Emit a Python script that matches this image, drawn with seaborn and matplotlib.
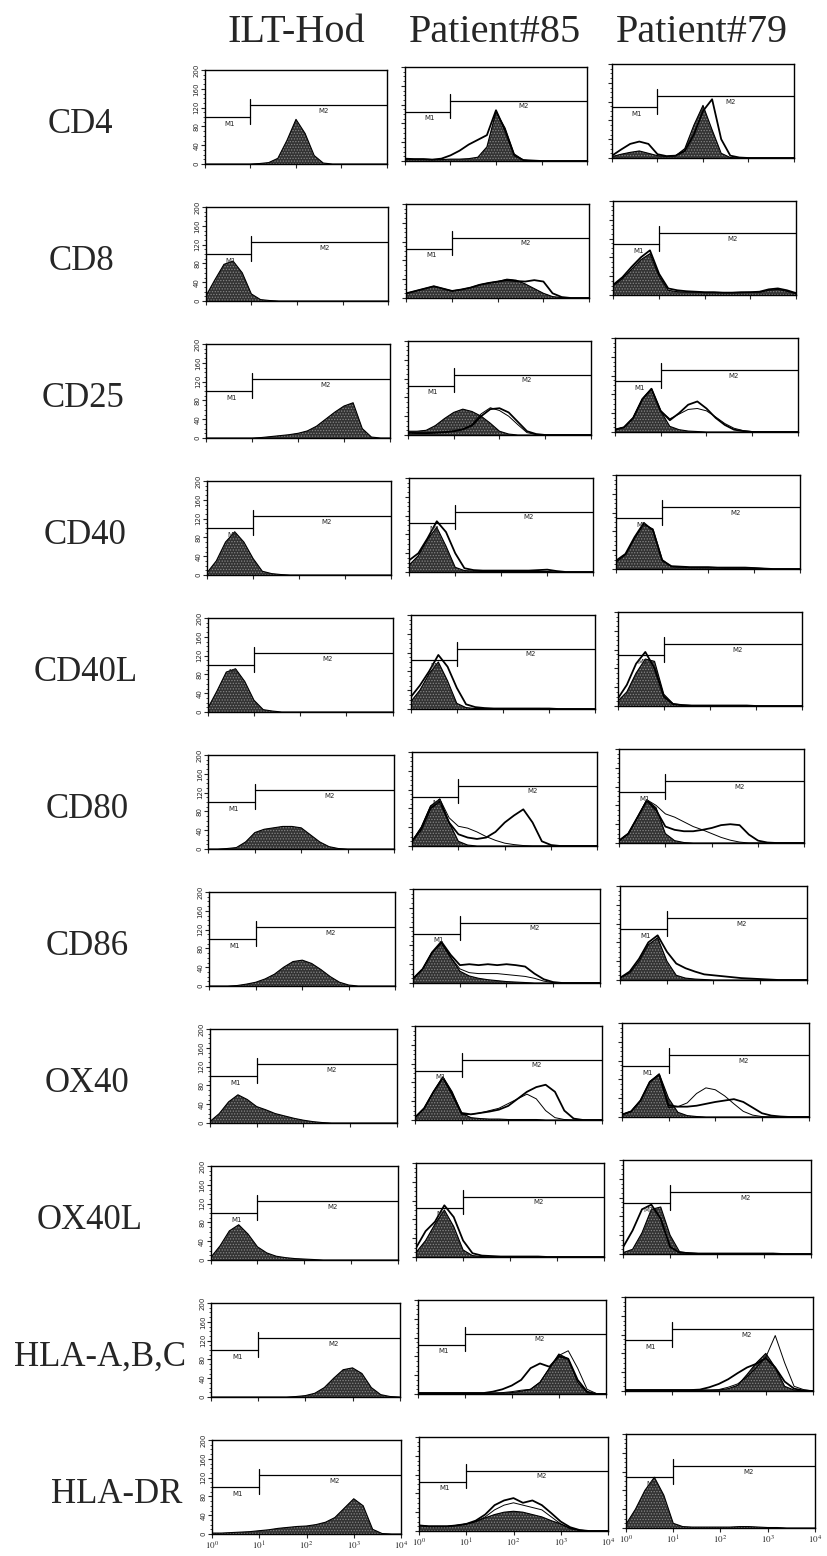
import numpy as np
import seaborn as sns
import matplotlib.pyplot as plt
from matplotlib.ticker import LogLocator, MultipleLocator, NullFormatter, FixedLocator

# -------------------------------
# style
# -------------------------------
sns.set_style("ticks")
plt.rcParams["font.family"] = ["Liberation Serif", "DejaVu Serif"]
plt.rcParams["mathtext.fontset"] = "stix"
plt.rcParams["hatch.linewidth"] = 0.6

# -------------------------------
# data: event counts per 0.2-decade channel (10^0 .. 10^4)
# -------------------------------
log_channels = [0.0, 0.2, 0.4, 0.6, 0.8, 1.0, 1.2, 1.4, 1.6, 1.8, 2.0,
                2.2, 2.4, 2.6, 2.8, 3.0, 3.2, 3.4, 3.6, 3.8, 4.0]

columns = ["ILT-Hod", "Patient#85", "Patient#79"]
markers = ["CD4", "CD8", "CD25", "CD40", "CD40L", "CD80", "CD86",
           "OX40", "OX40L", "HLA-A,B,C", "HLA-DR"]

y_ticks = [0, 40, 80, 120, 160, 200]
x_decades = [1, 10, 100, 1000, 10000]

# gates M1 / M2 per column
gate_pos = [10, 10, 10]
m1_level = [100, 105, 108]
m2_level = [125, 128, 132]

cd4_ilt = [0, 0, 0, 0, 0, 0, 1, 3, 12, 50, 95, 65, 18, 2, 0, 0, 0, 0, 0, 0, 0]
cd4_p85_fill = [4, 4, 4, 3, 3, 4, 4, 5, 8, 30, 105, 70, 15, 2, 0, 0, 0, 0, 0, 0, 0]
cd4_p85_line = [5, 4, 4, 3, 5, 12, 22, 35, 45, 55, 108, 65, 12, 2, 1, 0, 0, 0, 0, 0, 0]
cd4_p79_fill = [3, 8, 12, 15, 10, 5, 3, 5, 20, 70, 112, 60, 10, 1, 0, 0, 0, 0, 0, 0, 0]
cd4_p79_line = [5, 18, 30, 35, 30, 8, 4, 5, 15, 50, 100, 125, 40, 5, 1, 0, 0, 0, 0, 0, 0]

cd8_ilt = [10, 45, 78, 85, 60, 15, 3, 1, 0, 0, 0, 0, 0, 0, 0, 0, 0, 0, 0, 0, 0]
cd8_p85_fill = [10, 15, 20, 25, 20, 15, 18, 22, 28, 32, 35, 40, 38, 30, 20, 10, 3, 1, 0, 0, 0]
cd8_p85_line = [10, 15, 20, 25, 20, 15, 18, 22, 28, 32, 35, 38, 36, 35, 38, 35, 10, 2, 0, 0, 0]
cd8_p79_fill = [20, 35, 55, 75, 88, 40, 10, 7, 6, 6, 5, 5, 5, 5, 5, 6, 6, 10, 12, 8, 3]
cd8_p79_line = [22, 38, 60, 80, 95, 45, 14, 10, 8, 7, 6, 6, 5, 5, 6, 6, 7, 12, 14, 10, 4]

cd25_ilt = [0, 0, 0, 0, 0, 0, 1, 3, 5, 7, 10, 15, 25, 40, 55, 68, 75, 20, 2, 0, 0]
cd25_p85_fill = [8, 8, 10, 20, 35, 48, 55, 50, 40, 25, 8, 2, 0, 0, 0, 0, 0, 0, 0, 0, 0]
cd25_p85_line = [5, 4, 4, 5, 6, 8, 12, 20, 40, 55, 57, 48, 28, 8, 2, 0, 0, 0, 0, 0, 0]
cd25_p85_line2 = [5, 4, 4, 5, 6, 8, 12, 22, 45, 58, 52, 40, 22, 5, 1, 0, 0, 0, 0, 0, 0]
cd25_p79_fill = [5, 10, 30, 70, 92, 45, 12, 5, 2, 1, 0, 0, 0, 0, 0, 0, 0, 0, 0, 0, 0]
cd25_p79_line = [5, 10, 30, 70, 92, 45, 25, 40, 58, 65, 50, 30, 15, 5, 2, 0, 0, 0, 0, 0, 0]
cd25_p79_line2 = [5, 10, 30, 70, 92, 45, 28, 38, 48, 50, 45, 32, 18, 8, 3, 1, 0, 0, 0, 0, 0]

cd40_ilt = [5, 30, 70, 92, 70, 35, 8, 3, 1, 0, 0, 0, 0, 0, 0, 0, 0, 0, 0, 0, 0]
cd40_p85_fill = [15, 35, 70, 95, 55, 10, 3, 2, 1, 1, 1, 1, 1, 1, 1, 1, 0, 0, 0, 0, 0]
cd40_p85_line = [25, 40, 72, 108, 85, 40, 8, 4, 3, 3, 3, 3, 3, 3, 4, 5, 2, 0, 0, 0, 0]
cd40_p79_fill = [15, 30, 65, 95, 85, 20, 5, 4, 3, 3, 3, 3, 2, 2, 2, 2, 1, 0, 0, 0, 0]
cd40_p79_line = [18, 32, 68, 98, 82, 18, 6, 5, 4, 4, 4, 3, 3, 3, 3, 2, 1, 0, 0, 0, 0]

cd40l_ilt = [8, 45, 85, 92, 65, 25, 5, 2, 0, 0, 0, 0, 0, 0, 0, 0, 0, 0, 0, 0, 0]
cd40l_p85_fill = [15, 40, 75, 100, 60, 12, 3, 1, 1, 1, 1, 1, 1, 1, 1, 0, 0, 0, 0, 0, 0]
cd40l_p85_line = [25, 50, 80, 115, 90, 45, 10, 4, 2, 1, 1, 1, 1, 1, 1, 1, 0, 0, 0, 0, 0]
cd40l_p79_fill = [10, 30, 70, 100, 95, 25, 5, 2, 1, 1, 1, 1, 1, 1, 1, 0, 0, 0, 0, 0, 0]
cd40l_p79_line = [15, 45, 90, 115, 80, 20, 4, 2, 1, 1, 1, 1, 1, 1, 1, 0, 0, 0, 0, 0, 0]

cd80_ilt = [0, 0, 1, 3, 15, 35, 42, 45, 48, 48, 45, 30, 15, 5, 1, 0, 0, 0, 0, 0, 0]
cd80_p85_fill = [10, 40, 85, 100, 50, 10, 2, 0, 0, 0, 0, 0, 0, 0, 0, 0, 0, 0, 0, 0, 0]
cd80_p85_line = [10, 35, 80, 95, 50, 25, 18, 15, 18, 30, 50, 65, 78, 50, 10, 2, 0, 0, 0, 0, 0]
cd80_p85_line2 = [10, 40, 85, 100, 60, 42, 38, 30, 20, 12, 6, 3, 1, 0, 0, 0, 0, 0, 0, 0, 0]
cd80_p79_fill = [5, 20, 55, 92, 75, 20, 5, 1, 0, 0, 0, 0, 0, 0, 0, 0, 0, 0, 0, 0, 0]
cd80_p79_line = [5, 20, 55, 90, 70, 35, 28, 25, 25, 28, 32, 38, 40, 38, 18, 5, 1, 0, 0, 0, 0]
cd80_p79_line2 = [5, 20, 55, 92, 80, 62, 55, 45, 35, 28, 20, 12, 6, 2, 0, 0, 0, 0, 0, 0, 0]

cd86_ilt = [0, 0, 0, 1, 4, 8, 15, 25, 40, 52, 55, 48, 35, 20, 8, 2, 0, 0, 0, 0, 0]
cd86_p85_fill = [10, 30, 65, 85, 55, 25, 15, 10, 7, 5, 3, 2, 1, 0, 0, 0, 0, 0, 0, 0, 0]
cd86_p85_line = [10, 30, 65, 88, 60, 38, 40, 38, 40, 38, 40, 38, 35, 20, 8, 2, 0, 0, 0, 0, 0]
cd86_p85_line2 = [10, 30, 65, 85, 55, 30, 22, 20, 20, 20, 18, 16, 14, 10, 4, 1, 0, 0, 0, 0, 0]
cd86_p79_fill = [5, 15, 40, 75, 90, 40, 10, 4, 2, 1, 0, 0, 0, 0, 0, 0, 0, 0, 0, 0, 0]
cd86_p79_line = [5, 18, 45, 80, 95, 60, 35, 25, 18, 12, 10, 8, 6, 4, 3, 2, 1, 0, 0, 0, 0]

ox40_ilt = [3, 20, 45, 60, 50, 35, 28, 20, 15, 10, 6, 3, 1, 0, 0, 0, 0, 0, 0, 0, 0]
ox40_p85_fill = [5, 25, 60, 92, 60, 15, 5, 3, 2, 2, 1, 1, 1, 1, 0, 0, 0, 0, 0, 0, 0]
ox40_p85_line = [5, 25, 60, 90, 55, 15, 12, 15, 18, 22, 30, 45, 60, 70, 75, 60, 20, 3, 0, 0, 0]
ox40_p85_line2 = [5, 25, 60, 90, 55, 12, 12, 15, 20, 25, 35, 45, 55, 45, 20, 5, 1, 0, 0, 0, 0]
ox40_p79_fill = [5, 12, 35, 75, 92, 40, 10, 3, 1, 0, 0, 0, 0, 0, 0, 0, 0, 0, 0, 0, 0]
ox40_p79_line = [5, 12, 35, 75, 90, 25, 22, 22, 24, 28, 32, 35, 38, 32, 20, 8, 3, 1, 0, 0, 0]
ox40_p79_line2 = [5, 12, 35, 75, 90, 20, 22, 30, 50, 62, 58, 45, 28, 12, 4, 1, 0, 0, 0, 0, 0]

ox40l_ilt = [5, 30, 62, 75, 55, 28, 15, 8, 5, 3, 2, 1, 0, 0, 0, 0, 0, 0, 0, 0, 0]
ox40l_p85_fill = [10, 35, 70, 100, 65, 15, 3, 1, 0, 0, 0, 0, 0, 0, 0, 0, 0, 0, 0, 0, 0]
ox40l_p85_line = [20, 55, 75, 110, 85, 35, 8, 3, 2, 1, 1, 1, 1, 1, 0, 0, 0, 0, 0, 0, 0]
ox40l_p79_fill = [3, 10, 45, 95, 100, 40, 5, 2, 1, 1, 1, 1, 1, 1, 1, 1, 1, 0, 0, 0, 0]
ox40l_p79_line = [15, 50, 95, 105, 75, 15, 3, 2, 1, 1, 1, 1, 1, 1, 1, 1, 1, 0, 0, 0, 0]

hla_abc_ilt = [0, 0, 0, 0, 0, 0, 0, 0, 0, 1, 3, 8, 20, 40, 58, 62, 50, 20, 5, 1, 0]
hla_abc_p85_fill = [2, 2, 2, 2, 2, 2, 2, 2, 2, 2, 3, 6, 10, 25, 55, 85, 75, 25, 3, 0, 0]
hla_abc_p85_line = [2, 2, 2, 2, 2, 2, 2, 2, 5, 10, 18, 30, 55, 65, 58, 80, 75, 30, 5, 0, 0]
hla_abc_p85_line2 = [2, 2, 2, 2, 2, 2, 2, 2, 2, 3, 5, 8, 10, 25, 55, 82, 92, 55, 10, 1, 0]
hla_abc_p79_fill = [2, 2, 2, 2, 2, 2, 2, 2, 2, 2, 2, 5, 12, 35, 60, 80, 50, 10, 2, 0, 0]
hla_abc_p79_line = [2, 2, 2, 2, 2, 2, 2, 2, 3, 8, 15, 25, 38, 50, 58, 70, 50, 20, 5, 1, 0]
hla_abc_p79_line2 = [2, 2, 2, 2, 2, 2, 2, 2, 2, 2, 3, 8, 15, 30, 50, 72, 118, 60, 10, 3, 0]

hla_dr_ilt = [2, 2, 3, 4, 5, 7, 9, 12, 14, 16, 17, 20, 25, 35, 55, 75, 60, 10, 1, 0, 0]
hla_dr_p85_fill = [12, 10, 10, 10, 12, 15, 20, 28, 35, 40, 42, 40, 35, 30, 22, 15, 6, 2, 0, 0, 0]
hla_dr_p85_line = [12, 10, 10, 10, 12, 15, 22, 35, 55, 65, 70, 60, 65, 55, 38, 20, 8, 2, 0, 0, 0]
hla_dr_p85_line2 = [12, 10, 10, 10, 12, 15, 20, 30, 45, 55, 60, 55, 50, 45, 30, 15, 5, 1, 0, 0, 0]
hla_dr_p79_fill = [8, 40, 80, 108, 70, 10, 3, 2, 2, 2, 2, 2, 3, 3, 2, 1, 1, 0, 0, 0, 0]

# (filled histogram, thick outline, thin outline) per marker and column
panels = [
    [(cd4_ilt, None, None), (cd4_p85_fill, cd4_p85_line, None), (cd4_p79_fill, cd4_p79_line, None)],
    [(cd8_ilt, None, None), (cd8_p85_fill, cd8_p85_line, None), (cd8_p79_fill, cd8_p79_line, None)],
    [(cd25_ilt, None, None), (cd25_p85_fill, cd25_p85_line, cd25_p85_line2),
     (cd25_p79_fill, cd25_p79_line, cd25_p79_line2)],
    [(cd40_ilt, None, None), (cd40_p85_fill, cd40_p85_line, None), (cd40_p79_fill, cd40_p79_line, None)],
    [(cd40l_ilt, None, None), (cd40l_p85_fill, cd40l_p85_line, None), (cd40l_p79_fill, cd40l_p79_line, None)],
    [(cd80_ilt, None, None), (cd80_p85_fill, cd80_p85_line, cd80_p85_line2),
     (cd80_p79_fill, cd80_p79_line, cd80_p79_line2)],
    [(cd86_ilt, None, None), (cd86_p85_fill, cd86_p85_line, cd86_p85_line2), (cd86_p79_fill, cd86_p79_line, None)],
    [(ox40_ilt, None, None), (ox40_p85_fill, ox40_p85_line, ox40_p85_line2),
     (ox40_p79_fill, ox40_p79_line, ox40_p79_line2)],
    [(ox40l_ilt, None, None), (ox40l_p85_fill, ox40l_p85_line, None), (ox40l_p79_fill, ox40l_p79_line, None)],
    [(hla_abc_ilt, None, None), (hla_abc_p85_fill, hla_abc_p85_line, hla_abc_p85_line2),
     (hla_abc_p79_fill, hla_abc_p79_line, hla_abc_p79_line2)],
    [(hla_dr_ilt, None, None), (hla_dr_p85_fill, hla_dr_p85_line, hla_dr_p85_line2), (hla_dr_p79_fill, None, None)],
]

# -------------------------------
# layout (pixels)
# -------------------------------
W, H = 828, 1556
col_left = [205, 405, 612]
col_drift = [0.7, 1.4, 1.4]
col_dy = [0, -3, -6]
row_top0 = 70
row_pitch = 137.0
panel_h = 94
title_x = [296, 495, 702]
label_x = [80, 82, 83, 85, 86, 87, 87, 87, 90, 100, 117]

fl = 10 ** np.array(log_channels)

fig = plt.figure(figsize=(W / 100, H / 100), dpi=100)

for c, name in enumerate(columns):
    fig.text(title_x[c] / W, 1 - 42 / H, name, ha="center", va="baseline", fontsize=29)

n_rows = len(markers)
for r, marker in enumerate(markers):
    fig.text(label_x[r] / W, 1 - (133 + r * row_pitch) / H, marker,
             ha="center", va="baseline", fontsize=25)
    for c in range(3):
        left = col_left[c] + r * col_drift[c]
        top = row_top0 + r * row_pitch + col_dy[c]
        width = 182 + 0.7 * r
        ax = fig.add_axes([left / W, 1 - (top + panel_h) / H, width / W, panel_h / H])

        fill, thick, thin = panels[r][c]
        ax.fill_between(fl, fill, 0, facecolor="#333333", edgecolor="#858585",
                        hatch="......", linewidth=0)
        sns.lineplot(x=fl, y=fill, ax=ax, color="black", linewidth=0.8, estimator=None)
        if thin is not None:
            sns.lineplot(x=fl, y=thin, ax=ax, color="black", linewidth=0.7, estimator=None)
        if thick is not None:
            sns.lineplot(x=fl, y=thick, ax=ax, color="black", linewidth=1.3, estimator=None)

        # gates
        g, a, b = gate_pos[c], m1_level[c], m2_level[c]
        ax.plot([1, g], [a, a], color="black", lw=0.9)
        ax.plot([g, 1e4], [b, b], color="black", lw=0.9)
        ax.plot([g, g], [a - 14, b + 14], color="black", lw=0.9)
        ax.text(10 ** 0.55, a - 14, "M1", ha="center", va="center", fontsize=5, family="DejaVu Sans")
        ax.text(10 ** 2.6, b - 12, "M2", ha="center", va="center", fontsize=5, family="DejaVu Sans")

        ax.set_xscale("log")
        ax.set_xlim(1, 1e4)
        ax.set_ylim(0, 200)
        ax.set_xlabel("")
        ax.set_ylabel("")
        ax.xaxis.set_major_locator(FixedLocator(x_decades))
        ax.xaxis.set_minor_locator(LogLocator(base=10, subs=np.arange(2, 10)))
        ax.xaxis.set_minor_formatter(NullFormatter())
        ax.set_yticks(y_ticks)
        ax.yaxis.set_minor_locator(MultipleLocator(10))
        ax.tick_params(which="major", direction="out", length=3, width=0.8, pad=1)
        ax.tick_params(which="minor", direction="out", length=1.5, width=0.6)
        for s in ax.spines.values():
            s.set_linewidth(1.0)
            s.set_color("black")

        if c == 0:
            ax.set_yticklabels([str(v) for v in y_ticks], rotation=90, va="center",
                               fontsize=5, family="DejaVu Sans")
        else:
            ax.set_yticklabels([])
        if r == n_rows - 1:
            ax.set_xticklabels([r"$10^{%d}$" % k for k in range(5)], fontsize=6.5)
        else:
            ax.set_xticklabels([])

fig.savefig("out.png", dpi=100, facecolor="white")
